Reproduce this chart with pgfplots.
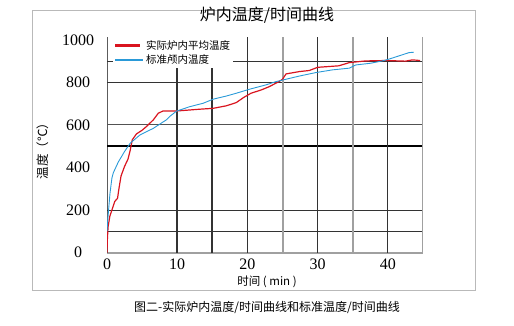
\documentclass[border=0pt]{standalone}
\usepackage{fontspec}
\setmainfont{Liberation Serif}
\newfontfamily\cjk{Noto Sans CJK SC}
\usepackage{pgfplots}
\pgfplotsset{compat=1.18}
\definecolor{redline}{HTML}{D9141F}
\definecolor{blueline}{HTML}{2A9AD8}
\definecolor{darkgrid}{HTML}{333333}
\definecolor{lightgrid}{HTML}{A0A0A0}
\begin{document}
\begin{tikzpicture}
\path[use as bounding box] (0pt,0pt) rectangle (514pt,325pt);
\draw[color=gray!55, line width=0.8pt] (32pt,35pt) rectangle (475pt,315pt);
\node[font=\cjk\fontsize{16}{18}\selectfont] at (267pt,310pt) {炉内温度/时间曲线};
\node[font=\cjk\fontsize{12.5}{14}\selectfont, rotate=90] at (43pt,177pt) {温度（℃）};
\node[font=\cjk\fontsize{11.5}{13}\selectfont] at (267pt,43pt) {时间 ( min )};
\node[font=\cjk\fontsize{12}{14}\selectfont] at (267pt,18pt) {图二-实际炉内温度/时间曲线和标准温度/时间曲线};
\begin{axis}[
  at={(107pt,72.5pt)}, anchor=south west,
  scale only axis, width=316pt, height=215.8pt,
  xmin=0, xmax=45, ymin=0, ymax=1015,
  xtick={0,10,20,30,40}, ytick={0,200,400,600,800,1000},
  major tick length=0pt,
  /pgf/number format/assume math mode=true,
  /pgf/number format/1000 sep={},
  ticklabel style={font=\fontsize{16}{18}\selectfont},
  xticklabel style={anchor=center, yshift=-12pt},
  yticklabel style={anchor=center, xshift=-29pt},
  axis x line*=bottom, axis y line*=left,
  x axis line style={-, color=lightgrid, line width=2pt},
  y axis line style={-, color=darkgrid!80, line width=1pt},
  legend style={at={(0.018,0.998)}, anchor=north west, draw=none, fill=white,
    inner sep=1pt, row sep=0pt, font=\cjk\fontsize{10.5}{12}\selectfont},
  legend cell align=left,
]
% grid lines
\draw[darkgrid, line width=0.9pt] (axis cs:0,100) -- (axis cs:45,100);
\draw[darkgrid, line width=0.9pt] (axis cs:0,200) -- (axis cs:45,200);
\draw[black, line width=2pt] (axis cs:0,500) -- (axis cs:45,500);
\draw[darkgrid!85, line width=0.9pt] (axis cs:0,600) -- (axis cs:45,600);
\draw[darkgrid, line width=0.9pt] (axis cs:0,800) -- (axis cs:45,800);
\draw[darkgrid, line width=0.9pt] (axis cs:0,900) -- (axis cs:45,900);
\draw[darkgrid, line width=1.8pt] (axis cs:10,0) -- (axis cs:10,1015);
\draw[darkgrid, line width=1.8pt] (axis cs:15,0) -- (axis cs:15,1015);
\draw[darkgrid, line width=0.9pt] (axis cs:20,0) -- (axis cs:20,1015);
\draw[lightgrid, line width=2pt] (axis cs:25,0) -- (axis cs:25,1015);
\draw[darkgrid, line width=0.9pt] (axis cs:30,0) -- (axis cs:30,1015);
\draw[lightgrid, line width=2pt] (axis cs:35,0) -- (axis cs:35,1015);
\draw[darkgrid, line width=0.9pt] (axis cs:40,0) -- (axis cs:40,1015);
\draw[lightgrid, line width=2pt] (axis cs:45,0) -- (axis cs:45,1015);

\addplot[color=redline, line width=1.2pt, mark=none,
  legend image code/.code={\draw[color=redline, line width=2.8pt] (0pt,0pt) -- (25pt,0pt);}]
coordinates {
(0,0) (0.05,60) (0.15,120) (0.4,170) (0.7,200) (1.1,240) (1.5,255) (1.7,300)
(2.0,360) (2.5,405) (3.0,440) (3.3,480) (3.6,530) (4.2,558) (5.0,575) (5.6,592)
(6.6,624) (7.3,655) (8.0,666) (10.1,666) (13.2,674) (15.1,678) (17,690) (18.4,705)
(19.5,730) (20.5,749) (22,765) (23.1,780) (24.5,804) (25,815) (25.5,840) (27.4,851)
(28.8,856) (30,871) (33,878) (34.5,893) (36.8,901) (39.7,903) (42.5,900) (43.5,906) (44.6,903)
};
\addlegendentry{实际炉内平均温度}
\addplot[color=blueline, line width=0.9pt, mark=none,
  legend image code/.code={\draw[color=blueline, line width=1.6pt] (0pt,0pt) -- (28pt,0pt);}]
coordinates {
(0,100) (0.1,150) (0.2,190) (0.43,280) (0.7,350) (0.9,375) (1.6,425) (2.5,475)
(3.3,514) (4.7,553) (6.6,584) (8.5,625) (8.9,639) (9.9,665) (11.8,686) (13.7,702)
(15.1,721) (17,736) (18.4,749) (20.3,768) (22.6,788) (24.1,804) (25.5,815) (27.4,830)
(29.7,846) (32.1,859) (34.5,867) (35.4,882) (37.5,890) (39.2,901) (40.1,909) (41.6,925)
(43,940) (43.7,942)
};
\addlegendentry{标准颅内温度}
\end{axis}
\end{tikzpicture}
\end{document}
